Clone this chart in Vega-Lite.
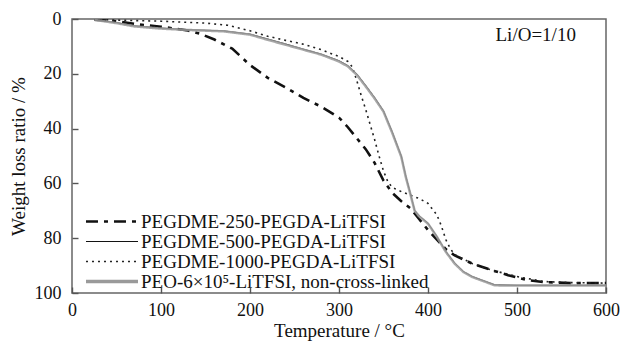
{
  "$schema": "https://vega.github.io/schema/vega-lite/v6.json",
  "width": 534,
  "height": 274,
  "autosize": {"type": "none"},
  "padding": {"left": 72, "top": 19, "right": 14, "bottom": 51},
  "background": "white",
  "config": {
    "font": "Liberation Serif",
    "view": {"stroke": "#666", "strokeWidth": 1.5},
    "axis": {
      "domain": false,
      "grid": false,
      "labelFont": "Liberation Serif",
      "labelFontSize": 18,
      "labelColor": "#111",
      "titleFont": "Liberation Serif",
      "titleFontSize": 19,
      "titleFontWeight": "normal",
      "titleColor": "#111"
    },
    "legend": {
      "labelFont": "Liberation Serif",
      "labelFontSize": 19,
      "labelColor": "#111"
    }
  },
  "datasets": {
    "tga": [
      {"series": "PEGDME-250-PEGDA-LiTFSI", "T": 25, "w": 0.3},
      {"series": "PEGDME-250-PEGDA-LiTFSI", "T": 50, "w": 0.8},
      {"series": "PEGDME-250-PEGDA-LiTFSI", "T": 75, "w": 2.0},
      {"series": "PEGDME-250-PEGDA-LiTFSI", "T": 100, "w": 2.8},
      {"series": "PEGDME-250-PEGDA-LiTFSI", "T": 130, "w": 4.2},
      {"series": "PEGDME-250-PEGDA-LiTFSI", "T": 145, "w": 5.5},
      {"series": "PEGDME-250-PEGDA-LiTFSI", "T": 160, "w": 7.5},
      {"series": "PEGDME-250-PEGDA-LiTFSI", "T": 180, "w": 10.8},
      {"series": "PEGDME-250-PEGDA-LiTFSI", "T": 200, "w": 16.8},
      {"series": "PEGDME-250-PEGDA-LiTFSI", "T": 220, "w": 21.5},
      {"series": "PEGDME-250-PEGDA-LiTFSI", "T": 240, "w": 25},
      {"series": "PEGDME-250-PEGDA-LiTFSI", "T": 260, "w": 28.8},
      {"series": "PEGDME-250-PEGDA-LiTFSI", "T": 280, "w": 32},
      {"series": "PEGDME-250-PEGDA-LiTFSI", "T": 300, "w": 36},
      {"series": "PEGDME-250-PEGDA-LiTFSI", "T": 310, "w": 39.5},
      {"series": "PEGDME-250-PEGDA-LiTFSI", "T": 320, "w": 43.5},
      {"series": "PEGDME-250-PEGDA-LiTFSI", "T": 330, "w": 47.5},
      {"series": "PEGDME-250-PEGDA-LiTFSI", "T": 340, "w": 52.5},
      {"series": "PEGDME-250-PEGDA-LiTFSI", "T": 350, "w": 59},
      {"series": "PEGDME-250-PEGDA-LiTFSI", "T": 360, "w": 63.5},
      {"series": "PEGDME-250-PEGDA-LiTFSI", "T": 370, "w": 66.5},
      {"series": "PEGDME-250-PEGDA-LiTFSI", "T": 380, "w": 69},
      {"series": "PEGDME-250-PEGDA-LiTFSI", "T": 390, "w": 73},
      {"series": "PEGDME-250-PEGDA-LiTFSI", "T": 400, "w": 77},
      {"series": "PEGDME-250-PEGDA-LiTFSI", "T": 410, "w": 80.5},
      {"series": "PEGDME-250-PEGDA-LiTFSI", "T": 420, "w": 84},
      {"series": "PEGDME-250-PEGDA-LiTFSI", "T": 430, "w": 86.3},
      {"series": "PEGDME-250-PEGDA-LiTFSI", "T": 450, "w": 89.3},
      {"series": "PEGDME-250-PEGDA-LiTFSI", "T": 470, "w": 91.5},
      {"series": "PEGDME-250-PEGDA-LiTFSI", "T": 490, "w": 93.5},
      {"series": "PEGDME-250-PEGDA-LiTFSI", "T": 510, "w": 95.2},
      {"series": "PEGDME-250-PEGDA-LiTFSI", "T": 530, "w": 96},
      {"series": "PEGDME-250-PEGDA-LiTFSI", "T": 560, "w": 96.4},
      {"series": "PEGDME-250-PEGDA-LiTFSI", "T": 600, "w": 96.4},

      {"series": "PEGDME-500-PEGDA-LiTFSI", "T": 25, "w": 0.3},
      {"series": "PEGDME-500-PEGDA-LiTFSI", "T": 50, "w": 1.3},
      {"series": "PEGDME-500-PEGDA-LiTFSI", "T": 70, "w": 2.5},
      {"series": "PEGDME-500-PEGDA-LiTFSI", "T": 100, "w": 3.3},
      {"series": "PEGDME-500-PEGDA-LiTFSI", "T": 130, "w": 3.9},
      {"series": "PEGDME-500-PEGDA-LiTFSI", "T": 170, "w": 4.3},
      {"series": "PEGDME-500-PEGDA-LiTFSI", "T": 200, "w": 5.5},
      {"series": "PEGDME-500-PEGDA-LiTFSI", "T": 220, "w": 7.3},
      {"series": "PEGDME-500-PEGDA-LiTFSI", "T": 240, "w": 9.1},
      {"series": "PEGDME-500-PEGDA-LiTFSI", "T": 260, "w": 11},
      {"series": "PEGDME-500-PEGDA-LiTFSI", "T": 280, "w": 12.8},
      {"series": "PEGDME-500-PEGDA-LiTFSI", "T": 300, "w": 15.2},
      {"series": "PEGDME-500-PEGDA-LiTFSI", "T": 310, "w": 17},
      {"series": "PEGDME-500-PEGDA-LiTFSI", "T": 320, "w": 20},
      {"series": "PEGDME-500-PEGDA-LiTFSI", "T": 330, "w": 24.2},
      {"series": "PEGDME-500-PEGDA-LiTFSI", "T": 340, "w": 28.6},
      {"series": "PEGDME-500-PEGDA-LiTFSI", "T": 350, "w": 33.5},
      {"series": "PEGDME-500-PEGDA-LiTFSI", "T": 360, "w": 41.3},
      {"series": "PEGDME-500-PEGDA-LiTFSI", "T": 370, "w": 50},
      {"series": "PEGDME-500-PEGDA-LiTFSI", "T": 375, "w": 57.2},
      {"series": "PEGDME-500-PEGDA-LiTFSI", "T": 380, "w": 63.4},
      {"series": "PEGDME-500-PEGDA-LiTFSI", "T": 385, "w": 69.8},
      {"series": "PEGDME-500-PEGDA-LiTFSI", "T": 390, "w": 71.8},
      {"series": "PEGDME-500-PEGDA-LiTFSI", "T": 400, "w": 74.5},
      {"series": "PEGDME-500-PEGDA-LiTFSI", "T": 410, "w": 79.3},
      {"series": "PEGDME-500-PEGDA-LiTFSI", "T": 420, "w": 84.8},
      {"series": "PEGDME-500-PEGDA-LiTFSI", "T": 430, "w": 89},
      {"series": "PEGDME-500-PEGDA-LiTFSI", "T": 440, "w": 92.2},
      {"series": "PEGDME-500-PEGDA-LiTFSI", "T": 450, "w": 94},
      {"series": "PEGDME-500-PEGDA-LiTFSI", "T": 460, "w": 95.2},
      {"series": "PEGDME-500-PEGDA-LiTFSI", "T": 475, "w": 97},
      {"series": "PEGDME-500-PEGDA-LiTFSI", "T": 500, "w": 97.2},
      {"series": "PEGDME-500-PEGDA-LiTFSI", "T": 600, "w": 97.2},

      {"series": "PEGDME-1000-PEGDA-LiTFSI", "T": 25, "w": 0.2},
      {"series": "PEGDME-1000-PEGDA-LiTFSI", "T": 50, "w": 0.4},
      {"series": "PEGDME-1000-PEGDA-LiTFSI", "T": 100, "w": 0.8},
      {"series": "PEGDME-1000-PEGDA-LiTFSI", "T": 150, "w": 1.5},
      {"series": "PEGDME-1000-PEGDA-LiTFSI", "T": 175, "w": 2.3},
      {"series": "PEGDME-1000-PEGDA-LiTFSI", "T": 200, "w": 4.3},
      {"series": "PEGDME-1000-PEGDA-LiTFSI", "T": 220, "w": 6.3},
      {"series": "PEGDME-1000-PEGDA-LiTFSI", "T": 240, "w": 7.8},
      {"series": "PEGDME-1000-PEGDA-LiTFSI", "T": 260, "w": 9.2},
      {"series": "PEGDME-1000-PEGDA-LiTFSI", "T": 280, "w": 11.2},
      {"series": "PEGDME-1000-PEGDA-LiTFSI", "T": 300, "w": 13.7},
      {"series": "PEGDME-1000-PEGDA-LiTFSI", "T": 310, "w": 15.5},
      {"series": "PEGDME-1000-PEGDA-LiTFSI", "T": 315, "w": 17.5},
      {"series": "PEGDME-1000-PEGDA-LiTFSI", "T": 320, "w": 22.5},
      {"series": "PEGDME-1000-PEGDA-LiTFSI", "T": 325, "w": 28},
      {"series": "PEGDME-1000-PEGDA-LiTFSI", "T": 330, "w": 33},
      {"series": "PEGDME-1000-PEGDA-LiTFSI", "T": 335, "w": 38.5},
      {"series": "PEGDME-1000-PEGDA-LiTFSI", "T": 340, "w": 44},
      {"series": "PEGDME-1000-PEGDA-LiTFSI", "T": 345, "w": 50},
      {"series": "PEGDME-1000-PEGDA-LiTFSI", "T": 350, "w": 55.5},
      {"series": "PEGDME-1000-PEGDA-LiTFSI", "T": 355, "w": 59.5},
      {"series": "PEGDME-1000-PEGDA-LiTFSI", "T": 360, "w": 61.5},
      {"series": "PEGDME-1000-PEGDA-LiTFSI", "T": 370, "w": 63},
      {"series": "PEGDME-1000-PEGDA-LiTFSI", "T": 380, "w": 64.3},
      {"series": "PEGDME-1000-PEGDA-LiTFSI", "T": 390, "w": 65.5},
      {"series": "PEGDME-1000-PEGDA-LiTFSI", "T": 400, "w": 67.3},
      {"series": "PEGDME-1000-PEGDA-LiTFSI", "T": 410, "w": 71.5},
      {"series": "PEGDME-1000-PEGDA-LiTFSI", "T": 415, "w": 75.5},
      {"series": "PEGDME-1000-PEGDA-LiTFSI", "T": 420, "w": 80.5},
      {"series": "PEGDME-1000-PEGDA-LiTFSI", "T": 425, "w": 83.8},
      {"series": "PEGDME-1000-PEGDA-LiTFSI", "T": 430, "w": 86},
      {"series": "PEGDME-1000-PEGDA-LiTFSI", "T": 450, "w": 89.3},
      {"series": "PEGDME-1000-PEGDA-LiTFSI", "T": 470, "w": 91.5},
      {"series": "PEGDME-1000-PEGDA-LiTFSI", "T": 500, "w": 94},
      {"series": "PEGDME-1000-PEGDA-LiTFSI", "T": 530, "w": 95.8},
      {"series": "PEGDME-1000-PEGDA-LiTFSI", "T": 560, "w": 96.2},
      {"series": "PEGDME-1000-PEGDA-LiTFSI", "T": 600, "w": 96.4},

      {"series": "PEO-6×10⁵-LiTFSI, non-cross-linked", "T": 25, "w": 0.3},
      {"series": "PEO-6×10⁵-LiTFSI, non-cross-linked", "T": 50, "w": 1.5},
      {"series": "PEO-6×10⁵-LiTFSI, non-cross-linked", "T": 70, "w": 2.7},
      {"series": "PEO-6×10⁵-LiTFSI, non-cross-linked", "T": 100, "w": 3.5},
      {"series": "PEO-6×10⁵-LiTFSI, non-cross-linked", "T": 130, "w": 4.0},
      {"series": "PEO-6×10⁵-LiTFSI, non-cross-linked", "T": 170, "w": 4.5},
      {"series": "PEO-6×10⁵-LiTFSI, non-cross-linked", "T": 200, "w": 5.7},
      {"series": "PEO-6×10⁵-LiTFSI, non-cross-linked", "T": 220, "w": 7.6},
      {"series": "PEO-6×10⁵-LiTFSI, non-cross-linked", "T": 240, "w": 9.4},
      {"series": "PEO-6×10⁵-LiTFSI, non-cross-linked", "T": 260, "w": 11.2},
      {"series": "PEO-6×10⁵-LiTFSI, non-cross-linked", "T": 280, "w": 13},
      {"series": "PEO-6×10⁵-LiTFSI, non-cross-linked", "T": 300, "w": 15.5},
      {"series": "PEO-6×10⁵-LiTFSI, non-cross-linked", "T": 310, "w": 17.3},
      {"series": "PEO-6×10⁵-LiTFSI, non-cross-linked", "T": 320, "w": 20.4},
      {"series": "PEO-6×10⁵-LiTFSI, non-cross-linked", "T": 330, "w": 24.6},
      {"series": "PEO-6×10⁵-LiTFSI, non-cross-linked", "T": 340, "w": 29},
      {"series": "PEO-6×10⁵-LiTFSI, non-cross-linked", "T": 350, "w": 33.8},
      {"series": "PEO-6×10⁵-LiTFSI, non-cross-linked", "T": 360, "w": 41.7},
      {"series": "PEO-6×10⁵-LiTFSI, non-cross-linked", "T": 370, "w": 50.3},
      {"series": "PEO-6×10⁵-LiTFSI, non-cross-linked", "T": 375, "w": 57.6},
      {"series": "PEO-6×10⁵-LiTFSI, non-cross-linked", "T": 380, "w": 63.7},
      {"series": "PEO-6×10⁵-LiTFSI, non-cross-linked", "T": 385, "w": 70},
      {"series": "PEO-6×10⁵-LiTFSI, non-cross-linked", "T": 390, "w": 72},
      {"series": "PEO-6×10⁵-LiTFSI, non-cross-linked", "T": 400, "w": 74.7},
      {"series": "PEO-6×10⁵-LiTFSI, non-cross-linked", "T": 410, "w": 79.5},
      {"series": "PEO-6×10⁵-LiTFSI, non-cross-linked", "T": 420, "w": 85},
      {"series": "PEO-6×10⁵-LiTFSI, non-cross-linked", "T": 430, "w": 89.3},
      {"series": "PEO-6×10⁵-LiTFSI, non-cross-linked", "T": 440, "w": 92.4},
      {"series": "PEO-6×10⁵-LiTFSI, non-cross-linked", "T": 450, "w": 94.2},
      {"series": "PEO-6×10⁵-LiTFSI, non-cross-linked", "T": 460, "w": 95.4},
      {"series": "PEO-6×10⁵-LiTFSI, non-cross-linked", "T": 475, "w": 97.2},
      {"series": "PEO-6×10⁵-LiTFSI, non-cross-linked", "T": 500, "w": 97.3},
      {"series": "PEO-6×10⁵-LiTFSI, non-cross-linked", "T": 600, "w": 97.3}
    ]
  },
  "layer": [
    {
      "data": {"name": "tga"},
      "transform": [{"filter": "indexof(datum.series, 'PEO') !== 0"}],
      "mark": {"type": "line", "clip": true},
      "encoding": {
        "x": {
          "field": "T",
          "type": "quantitative",
          "title": "Temperature / °C",
          "scale": {"domain": [0, 600], "nice": false},
          "axis": {"values": [0, 100, 200, 300, 400, 500, 600], "ticks": true, "tickSize": -6, "tickColor": "#555", "tickWidth": 1.4, "zindex": 1, "labelPadding": 14, "titlePadding": 2, "labelFlush": false}
        },
        "y": {
          "field": "w",
          "type": "quantitative",
          "title": "Weight loss ratio / %",
          "scale": {"domain": [0, 100], "reverse": true, "nice": false},
          "axis": {"values": [0, 20, 40, 60, 80, 100], "ticks": true, "tickSize": -6, "tickColor": "#555", "tickWidth": 1.4, "zindex": 1, "labelPadding": 17, "titlePadding": 6}
        },
        "color": {
          "field": "series",
          "type": "nominal",
          "scale": {
            "domain": ["PEGDME-250-PEGDA-LiTFSI", "PEGDME-500-PEGDA-LiTFSI", "PEGDME-1000-PEGDA-LiTFSI", "PEO-6×10⁵-LiTFSI, non-cross-linked"],
            "range": ["#111111", "#111111", "#222222", "#9a9a9a"]
          },
          "legend": {
            "title": null,
            "orient": "none",
            "legendX": 30.5,
            "legendY": 193,
            "padding": 0,
            "symbolType": "M-3.06,0H3.06",
            "symbolSize": 289,
            "labelOffset": 19.5,
            "rowPadding": -1.5,
            "labelLimit": 400,
            "encode": {
              "symbols": {
                "update": {
                  "strokeWidth": {"signal": "datum.value === 'PEGDME-250-PEGDA-LiTFSI' ? 2.6 : datum.value === 'PEGDME-500-PEGDA-LiTFSI' ? 1 : datum.value === 'PEGDME-1000-PEGDA-LiTFSI' ? 1.6 : 3.5"}
                }
              }
            }
          }
        },
        "strokeDash": {
          "field": "series",
          "type": "nominal",
          "scale": {
            "domain": ["PEGDME-250-PEGDA-LiTFSI", "PEGDME-500-PEGDA-LiTFSI", "PEGDME-1000-PEGDA-LiTFSI", "PEO-6×10⁵-LiTFSI, non-cross-linked"],
            "range": [[12, 6, 4, 6], [1, 0], [2, 4], [1, 0]]
          },
          "legend": {"title": null}
        },
        "strokeWidth": {
          "field": "series",
          "type": "nominal",
          "scale": {
            "type": "ordinal",
            "domain": ["PEGDME-250-PEGDA-LiTFSI", "PEGDME-500-PEGDA-LiTFSI", "PEGDME-1000-PEGDA-LiTFSI", "PEO-6×10⁵-LiTFSI, non-cross-linked"],
            "range": [2.6, 1, 1.6, 3.5]
          },
          "legend": null
        }
      }
    },
    {
      "data": {"name": "tga"},
      "transform": [{"filter": "indexof(datum.series, 'PEO') === 0"}],
      "mark": {"type": "line", "clip": true, "opacity": 0.85},
      "encoding": {
        "x": {"field": "T", "type": "quantitative"},
        "y": {"field": "w", "type": "quantitative"},
        "color": {"field": "series", "type": "nominal"},
        "strokeDash": {"field": "series", "type": "nominal"},
        "strokeWidth": {"field": "series", "type": "nominal", "legend": null}
      }
    },
    {
      "data": {"values": [{"note": "Li/O=1/10"}]},
      "mark": {"type": "text", "fontSize": 19, "font": "Liberation Serif", "color": "#111"},
      "encoding": {
        "x": {"datum": 521, "type": "quantitative"},
        "y": {"datum": 6, "type": "quantitative"},
        "text": {"field": "note", "type": "nominal"}
      }
    }
  ]
}
